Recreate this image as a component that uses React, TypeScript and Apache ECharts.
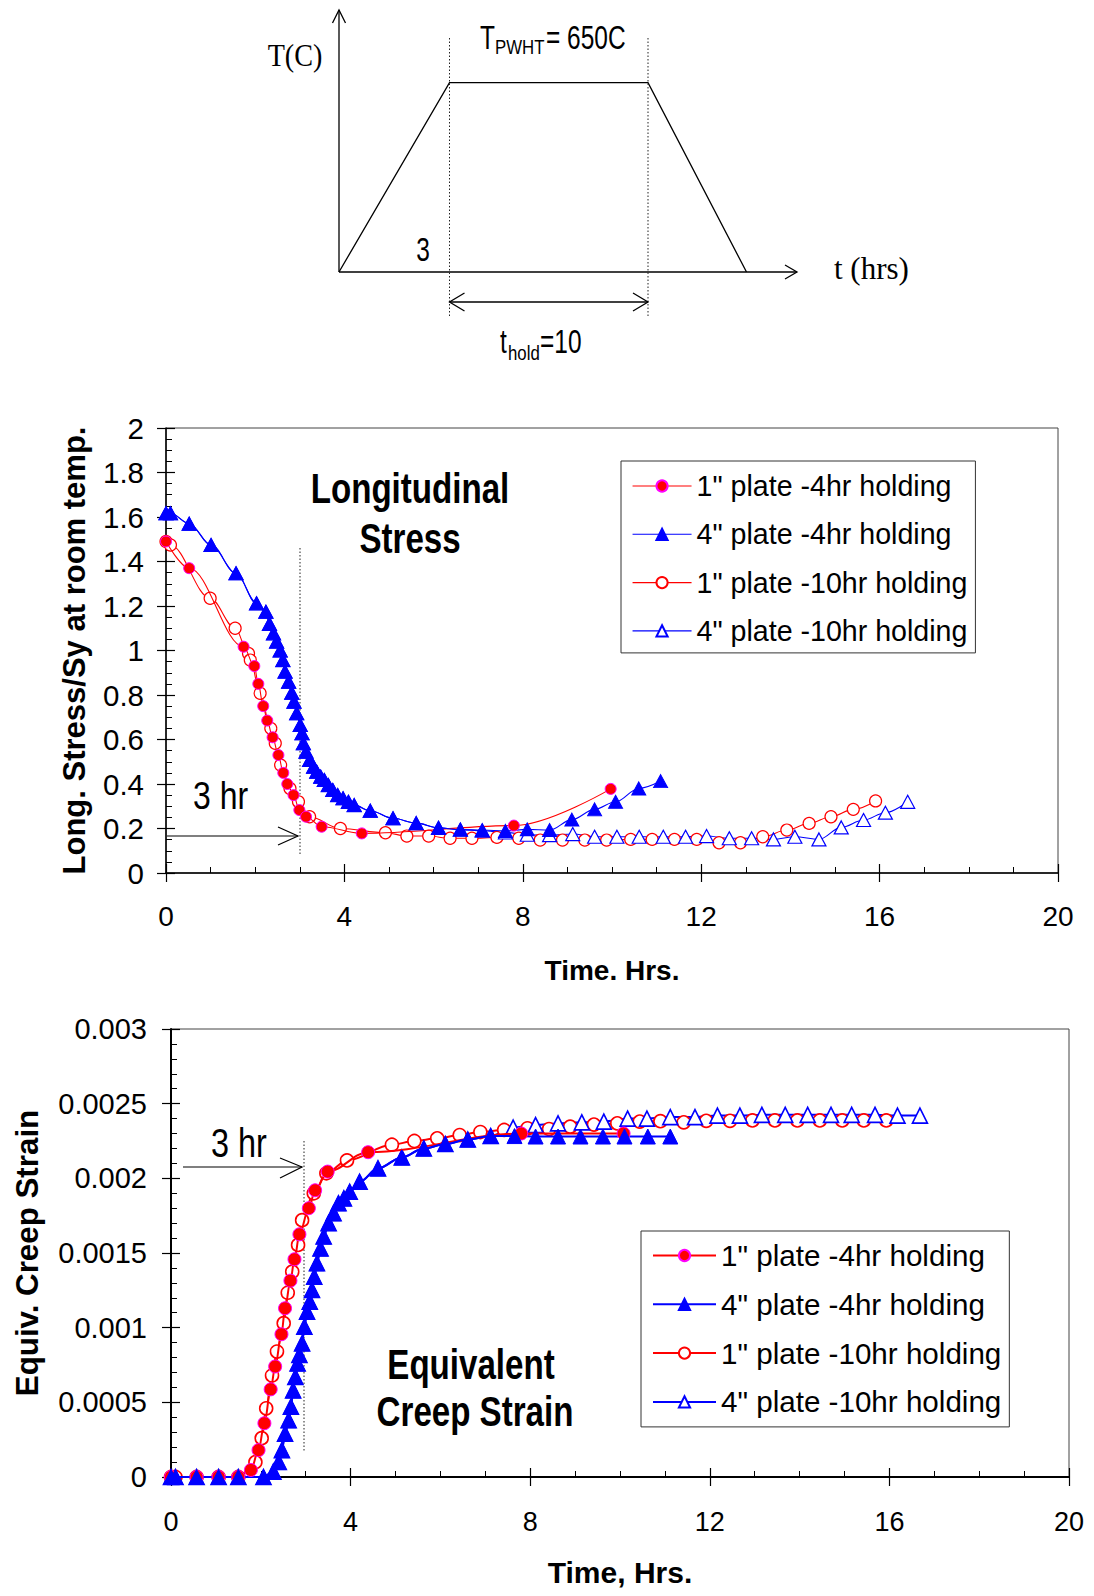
import React, { useEffect, useRef } from "react";
import * as echarts from "echarts";

// ---------- axis ticks ----------
const timeTicks = [0, 4, 8, 12, 16, 20];
const stressTicks = [0, 0.2, 0.4, 0.6, 0.8, 1, 1.2, 1.4, 1.6, 1.8, 2];
const strainTicks = [0, 0.0005, 0.001, 0.0015, 0.002, 0.0025, 0.003];

const seriesNames = [
  '1" plate -4hr holding',
  '4" plate -4hr holding',
  '1" plate -10hr holding',
  '4" plate -10hr holding',
];

// ---------- Longitudinal stress (time h, stress/Sy) ----------
const stress1in4hr = [
  [0, 1.49], [0.52, 1.37], [1.74, 1.017], [1.98, 0.93], [2.07, 0.85], [2.18, 0.75],
  [2.27, 0.685], [2.39, 0.61], [2.52, 0.53], [2.63, 0.45], [2.72, 0.4], [2.86, 0.35],
  [2.99, 0.283], [3.14, 0.253], [3.49, 0.208], [4.39, 0.178], [7.8, 0.213], [9.97, 0.378],
];
const stress4in4hr = [
  [0, 1.617], [0.1, 1.617], [0.52, 1.57], [1.01, 1.474], [1.57, 1.347], [2.03, 1.212],
  [2.24, 1.174], [2.32, 1.12], [2.41, 1.077], [2.48, 1.04], [2.56, 1.0], [2.62, 0.957],
  [2.67, 0.905], [2.75, 0.86], [2.82, 0.81], [2.87, 0.77], [2.93, 0.718], [3.01, 0.665],
  [3.05, 0.628], [3.08, 0.583], [3.14, 0.545], [3.22, 0.508], [3.31, 0.478], [3.38, 0.455],
  [3.47, 0.433], [3.55, 0.418], [3.64, 0.395], [3.74, 0.373], [3.85, 0.35], [3.97, 0.336],
  [4.09, 0.32], [4.22, 0.305], [4.58, 0.28], [5.09, 0.246], [5.61, 0.224], [6.11, 0.203],
  [6.6, 0.195], [7.09, 0.193], [7.61, 0.189], [8.1, 0.196], [8.6, 0.193], [9.1, 0.24],
  [9.61, 0.286], [10.08, 0.32], [10.6, 0.38], [11.09, 0.413],
];
const stress1in10hr = [
  [0, 1.49], [0.1, 1.474], [0.99, 1.235], [1.55, 1.1], [1.85, 0.987], [1.89, 0.957],
  [2.11, 0.808], [2.35, 0.65], [2.45, 0.583], [2.57, 0.485], [2.78, 0.38], [2.97, 0.32],
  [3.22, 0.253], [3.91, 0.2], [4.92, 0.181], [5.4, 0.166], [5.89, 0.166], [6.37, 0.156],
  [6.86, 0.156], [7.42, 0.16], [7.91, 0.156], [8.39, 0.148], [8.89, 0.148], [9.39, 0.148],
  [9.88, 0.148], [10.42, 0.151], [10.9, 0.151], [11.4, 0.151], [11.9, 0.151], [12.4, 0.136],
  [12.88, 0.136], [13.38, 0.163], [13.92, 0.193], [14.42, 0.223], [14.91, 0.253],
  [15.41, 0.286], [15.91, 0.324],
];
const stress4in10hr = [
  [0, 1.617], [0.1, 1.617], [0.52, 1.57], [1.01, 1.474], [1.57, 1.347], [2.03, 1.212],
  [2.24, 1.174], [2.32, 1.12], [2.41, 1.077], [2.48, 1.04], [2.56, 1.0], [2.62, 0.957],
  [2.67, 0.905], [2.75, 0.86], [2.82, 0.81], [2.87, 0.77], [2.93, 0.718], [3.01, 0.665],
  [3.05, 0.628], [3.08, 0.583], [3.14, 0.545], [3.22, 0.508], [3.31, 0.478], [3.38, 0.455],
  [3.47, 0.433], [3.55, 0.418], [3.64, 0.395], [3.74, 0.373], [3.85, 0.35], [3.97, 0.336],
  [4.09, 0.32], [4.22, 0.305], [4.58, 0.28], [5.09, 0.246], [5.61, 0.224], [6.11, 0.203],
  [6.6, 0.195], [7.09, 0.19], [7.61, 0.182], [8.1, 0.172], [8.6, 0.17], [9.12, 0.175],
  [9.61, 0.163], [10.11, 0.163], [10.61, 0.163], [11.15, 0.163], [11.65, 0.163],
  [12.12, 0.166], [12.63, 0.156], [13.13, 0.156], [13.62, 0.151], [14.1, 0.163],
  [14.64, 0.151], [15.14, 0.205], [15.64, 0.238], [16.13, 0.271], [16.63, 0.32],
];

// ---------- Equivalent creep strain (time h, strain) ----------
const strain1in4hr = [
  [0, 0], [0.57, 0], [1.06, 0], [1.5, 0], [1.78, 0.000047], [1.95, 0.00018], [2.08, 0.00036],
  [2.22, 0.000587], [2.32, 0.00074], [2.46, 0.000956], [2.54, 0.00113], [2.66, 0.001315],
  [2.75, 0.001458], [2.86, 0.001625], [3.07, 0.0018], [3.21, 0.00192], [3.49, 0.002045],
  [4.39, 0.002175], [7.8, 0.0023], [10.08, 0.0023],
];
const strain4in4hr = [
  [0, 0], [0.1, 0], [0.57, 0], [1.06, 0], [1.5, 0], [2.06, 0], [2.28, 0.000036], [2.4, 0.0001],
  [2.47, 0.00018], [2.54, 0.00029], [2.62, 0.00038], [2.67, 0.00047], [2.72, 0.00058],
  [2.77, 0.00067], [2.82, 0.00076], [2.86, 0.000817], [2.92, 0.000895], [2.97, 0.001006],
  [3.03, 0.001107], [3.09, 0.001174], [3.14, 0.001252], [3.19, 0.001341], [3.25, 0.001431],
  [3.33, 0.00153], [3.4, 0.00161], [3.51, 0.0017], [3.62, 0.001766], [3.73, 0.001833],
  [3.85, 0.001866], [3.98, 0.00191], [4.2, 0.001977], [4.61, 0.002067], [5.14, 0.00214],
  [5.63, 0.0022], [6.11, 0.00223], [6.61, 0.00226], [7.12, 0.002283], [7.65, 0.002283],
  [8.12, 0.00228], [8.62, 0.00228], [9.12, 0.00228], [9.62, 0.00228], [10.1, 0.00228],
  [10.62, 0.00228], [11.12, 0.00228],
];
const strain1in10hr = [
  [0, 0], [0.1, 0], [0.57, 0], [1.06, 0], [1.5, 0], [1.88, 0.0001], [2.02, 0.00026],
  [2.12, 0.00046], [2.25, 0.00068], [2.36, 0.00084], [2.51, 0.00103], [2.6, 0.001234],
  [2.7, 0.001375], [2.83, 0.001554], [2.92, 0.00172], [3.18, 0.0019], [3.46, 0.002034],
  [3.92, 0.00212], [4.92, 0.002225], [5.42, 0.00225], [5.93, 0.002268], [6.43, 0.00229],
  [6.89, 0.00231], [7.42, 0.002324], [7.94, 0.002335], [8.42, 0.00233], [8.89, 0.002346],
  [9.42, 0.00236], [9.94, 0.002368], [10.44, 0.00238], [10.9, 0.002383], [11.42, 0.002375],
  [11.92, 0.002385], [12.45, 0.002385], [12.95, 0.002388], [13.45, 0.002388],
  [13.95, 0.002388], [14.45, 0.002388], [14.95, 0.002388], [15.43, 0.002388], [15.93, 0.002388],
];
const strain4in10hr = [
  [0, 0], [0.1, 0], [0.57, 0], [1.06, 0], [1.5, 0], [2.06, 0], [2.28, 0.000036], [2.4, 0.0001],
  [2.47, 0.00018], [2.54, 0.00029], [2.62, 0.00038], [2.67, 0.00047], [2.72, 0.00058],
  [2.77, 0.00067], [2.82, 0.00076], [2.86, 0.000817], [2.92, 0.000895], [2.97, 0.001006],
  [3.03, 0.001107], [3.09, 0.001174], [3.14, 0.001252], [3.19, 0.001341], [3.25, 0.001431],
  [3.33, 0.00153], [3.4, 0.00161], [3.51, 0.0017], [3.62, 0.001766], [3.73, 0.001833],
  [3.85, 0.001866], [3.98, 0.00191], [4.2, 0.001977], [4.61, 0.002067], [5.14, 0.00214],
  [5.63, 0.0022], [6.11, 0.00223], [6.61, 0.00226], [7.12, 0.002283], [7.62, 0.00234],
  [8.12, 0.002357], [8.62, 0.002368], [9.15, 0.002375], [9.64, 0.00238], [10.17, 0.0024],
  [10.6, 0.0024], [11.12, 0.00241], [11.67, 0.00241], [12.17, 0.00242], [12.67, 0.00242],
  [13.16, 0.002425], [13.68, 0.002425], [14.18, 0.002425], [14.7, 0.002425],
  [15.16, 0.002425], [15.68, 0.002425], [16.18, 0.00242], [16.68, 0.00242],
];

const SANS = '"Liberation Sans", Arial, Helvetica, sans-serif';
const SERIF = '"Liberation Serif", "Times New Roman", serif';
const RED = "#FF0000";
const BLUE = "#0000FF";

const markerStyles = [
  { symbol: "circle", fill: RED, border: "#FF00FF", line: RED, z: 4, filled: true },
  { symbol: "triangle", fill: BLUE, border: BLUE, line: BLUE, z: 4, filled: true },
  { symbol: "circle", fill: "#FFFFFF", border: RED, line: RED, z: 3, filled: false },
  { symbol: "triangle", fill: "#FFFFFF", border: BLUE, line: BLUE, z: 3, filled: false },
];

function makeSeries(data: number[][], idx: number, axisIdx: number, big: boolean) {
  const m = markerStyles[idx];
  const size =
    m.symbol === "circle" ? (big ? 13 : m.filled ? 11 : 12) : big ? [15, 15] : [14, 13];
  return {
    type: "line",
    name: seriesNames[idx],
    xAxisIndex: axisIdx,
    yAxisIndex: axisIdx,
    data,
    smooth: 0.35,
    smoothMonotone: "x",
    clip: false,
    z: m.z,
    symbol: m.symbol,
    symbolSize: size,
    showAllSymbol: true,
    lineStyle: { color: m.line, width: big ? 2 : 1.1 },
    itemStyle: {
      color: m.fill,
      borderColor: m.border,
      borderWidth: m.filled ? 1 : big ? 1.6 : 1.2,
      opacity: 1,
    },
    emphasis: { disabled: true },
  };
}

function labelAxis(gridIndex: number, ticks: number[], kind: "x" | "y", o: any) {
  const interval = ticks[1] - ticks[0];
  return {
    type: "value",
    gridIndex,
    min: ticks[0],
    max: ticks[ticks.length - 1],
    interval,
    position: kind === "x" ? "bottom" : "left",
    splitLine: { show: false },
    axisLine: { show: true, onZero: false, lineStyle: { color: "#000", width: o.lineW } },
    axisTick: { show: true, inside: false, length: 9, lineStyle: { color: "#000", width: 1.2 } },
    minorTick: { show: false },
    axisLabel: {
      show: true,
      color: "#000",
      fontSize: o.fontSize,
      fontFamily: SANS,
      margin: o.margin,
      showMinLabel: true,
      showMaxLabel: true,
    },
    name: o.name,
    nameLocation: "middle",
    nameGap: o.nameGap,
    nameTextStyle: {
      color: "#000",
      fontSize: o.nameSize,
      fontWeight: "bold",
      fontFamily: SANS,
    },
  };
}

function tickAxis(gridIndex: number, ticks: number[], kind: "x" | "y", minorSplit: number) {
  const interval = ticks[1] - ticks[0];
  return {
    type: "value",
    gridIndex,
    min: ticks[0],
    max: ticks[ticks.length - 1],
    interval,
    position: kind === "x" ? "bottom" : "left",
    offset: 0,
    splitLine: { show: false },
    axisLine: { show: false, onZero: false },
    axisTick: { show: true, inside: true, length: 9, lineStyle: { color: "#000", width: 1.2 } },
    minorTick: { show: true, splitNumber: minorSplit, length: 6, lineStyle: { color: "#000", width: 1 } },
    axisLabel: { show: false },
  };
}

function txt(text: string, x: number, y: number, size: number, o: any = {}) {
  return {
    type: "text",
    x,
    y,
    scaleX: o.sx ?? 1,
    rotation: o.rot ?? 0,
    silent: true,
    style: {
      text,
      fill: "#000",
      font: `${o.weight ?? "normal"} ${size}px ${o.family ?? SANS}`,
      textAlign: o.align ?? "left",
      align: o.align ?? "left",
      textVerticalAlign: "middle",
      verticalAlign: "middle",
    },
  };
}
function seg(x1: number, y1: number, x2: number, y2: number, st: any = {}) {
  return {
    type: "line",
    silent: true,
    shape: { x1, y1, x2, y2 },
    style: { stroke: "#000", lineWidth: 1.3, ...st },
  };
}
function poly(points: number[][], st: any = {}) {
  return {
    type: "polyline",
    silent: true,
    shape: { points },
    style: { stroke: "#000", fill: "none", lineWidth: 1.3, ...st },
  };
}

const dotted = { lineDash: [1.5, 2], lineWidth: 1, stroke: "#222" };

const graphics = [
  // schematic
  seg(339, 272, 339, 10),
  poly([[332.5, 23], [339, 10], [345.5, 23]]),
  seg(339, 272, 797, 272),
  poly([[785, 265], [797, 272], [785, 279]]),
  poly([[339, 272], [449.5, 82.7], [648, 82.7], [746.5, 272]]),
  seg(449.5, 38, 449.5, 317, dotted),
  seg(648, 38, 648, 317, dotted),
  seg(449.5, 302, 648, 302),
  poly([[464.5, 293], [449.5, 302], [464.5, 311]]),
  poly([[633, 293], [648, 302], [633, 311]]),
  txt("T(C)", 295, 55, 32, { family: SERIF, align: "center", sx: 0.88 }),
  txt("t (hrs)", 834, 268, 31, { family: SERIF }),
  txt("T", 480, 36.5, 34, { sx: 0.72 }),
  txt("PWHT", 495, 47, 21, { sx: 0.8 }),
  txt("= 650C", 546, 36.5, 34, { sx: 0.72 }),
  txt("3", 423, 248.5, 34, { align: "center", sx: 0.72 }),
  txt("t", 500, 341, 34, { sx: 0.72 }),
  txt("hold", 508, 353, 21, { sx: 0.8 }),
  txt("=10", 540, 341, 34, { sx: 0.72 }),
  // middle chart annotations
  txt("Longitudinal", 410, 488, 43, { weight: "bold", align: "center", sx: 0.77 }),
  txt("Stress", 410, 538, 43, { weight: "bold", align: "center", sx: 0.77 }),
  txt("3 hr", 193, 796, 39, { sx: 0.82 }),
  seg(167, 836, 298, 836, { lineWidth: 1.2 }),
  poly([[278, 827], [298, 836], [278, 845]], { lineWidth: 1.2 }),
  seg(300, 548, 300, 855, dotted),
  // bottom chart annotations
  txt("Equivalent", 471, 1364, 43, { weight: "bold", align: "center", sx: 0.77 }),
  txt("Creep Strain", 475, 1411, 43, { weight: "bold", align: "center", sx: 0.77 }),
  txt("3 hr", 211, 1143, 40, { sx: 0.81 }),
  seg(183, 1167, 302, 1167, { lineWidth: 1.2 }),
  poly([[280, 1158], [302, 1167], [280, 1178]], { lineWidth: 1.2 }),
  seg(304, 1141, 304, 1452, dotted),
];

export default function App() {
  const ref = useRef<HTMLDivElement>(null);
  useEffect(() => {
    if (!ref.current) return;
    const chart = echarts.init(ref.current, undefined, { renderer: "svg" });
    const option: any = {
      animation: false,
      backgroundColor: "#fff",
      grid: [
        { left: 166, top: 428, width: 892, height: 445, show: true, borderColor: "#444", borderWidth: 1, backgroundColor: "transparent" },
        { left: 171, top: 1029, width: 898, height: 448, show: true, borderColor: "#444", borderWidth: 1, backgroundColor: "transparent" },
      ],
      xAxis: [
        labelAxis(0, timeTicks, "x", { lineW: 1.5, fontSize: 28, margin: 29, name: "Time. Hrs.", nameGap: 83, nameSize: 28 }),
        tickAxis(0, timeTicks, "x", 4),
        labelAxis(1, timeTicks, "x", { lineW: 2, fontSize: 27, margin: 31, name: "Time, Hrs.", nameGap: 80, nameSize: 30 }),
        tickAxis(1, timeTicks, "x", 4),
      ],
      yAxis: [
        labelAxis(0, stressTicks, "y", { lineW: 1.5, fontSize: 29.5, margin: 22, name: "Long. Stress/Sy at room temp.", nameGap: 76, nameSize: 31 }),
        tickAxis(0, stressTicks, "y", 4),
        labelAxis(1, strainTicks, "y", { lineW: 2, fontSize: 29, margin: 24, name: "Equiv. Creep Strain", nameGap: 128, nameSize: 31.3 }),
        tickAxis(1, strainTicks, "y", 5),
      ],
      legend: [
        {
          orient: "vertical",
          left: 621,
          top: 461,
          padding: [10, 8, 7, 11],
          itemGap: 18.3,
          itemWidth: 59,
          itemHeight: 14,
          selectedMode: false,
          backgroundColor: "#fff",
          borderColor: "#333",
          borderWidth: 1,
          data: seriesNames,
          lineStyle: { width: 1.1 },
          textStyle: { fontSize: 28.6, fontFamily: SANS, color: "#000", lineHeight: 30 },
          z: 10,
        },
        {
          orient: "vertical",
          left: 641,
          top: 1231,
          padding: [9.5, 8, 10, 11],
          itemGap: 18.8,
          itemWidth: 63,
          itemHeight: 14,
          selectedMode: false,
          backgroundColor: "#fff",
          borderColor: "#333",
          borderWidth: 1,
          data: seriesNames,
          lineStyle: { width: 2 },
          textStyle: { fontSize: 29.6, fontFamily: SANS, color: "#000", lineHeight: 30 },
          z: 10,
        },
      ],
      series: [
        makeSeries(stress1in4hr, 0, 0, false),
        makeSeries(stress4in4hr, 1, 0, false),
        makeSeries(stress1in10hr, 2, 0, false),
        makeSeries(stress4in10hr, 3, 0, false),
        makeSeries(strain1in4hr, 0, 2, true),
        makeSeries(strain4in4hr, 1, 2, true),
        makeSeries(strain1in10hr, 2, 2, true),
        makeSeries(strain4in10hr, 3, 2, true),
      ],
      graphic: graphics,
    };
    chart.setOption(option);
    return () => chart.dispose();
  }, []);
  return (
    <div
      ref={ref}
      style={{ position: "absolute", left: 0, top: 0, width: 1094, height: 1596, background: "#fff" }}
    />
  );
}
